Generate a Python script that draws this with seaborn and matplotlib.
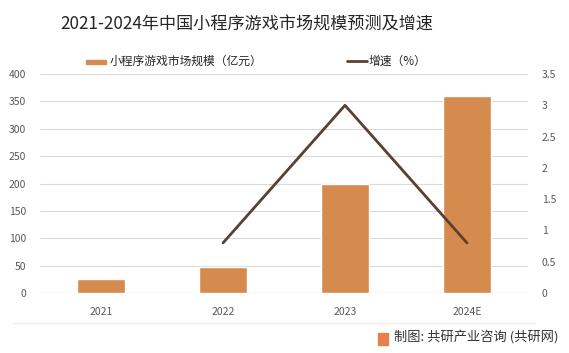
import matplotlib
matplotlib.use("Agg")
import matplotlib.pyplot as plt
import matplotlib.patches as mpatches
from matplotlib.lines import Line2D
import seaborn as sns
import numpy as np
import pandas as pd

years = ["2021", "2022", "2023", "2024E"]
market_size = [25, 48, 200, 360]
growth = [np.nan, 0.8, 3.0, 0.8]
left_ticks = [0, 50, 100, 150, 200, 250, 300, 350, 400]
right_ticks = [0, 0.5, 1, 1.5, 2, 2.5, 3, 3.5]
right_tick_labels = ["0", "0.5", "1", "1.5", "2", "2.5", "3", "3.5"]

title = "2021-2024年中国小程序游戏市场规模预测及增速"
bar_label = "小程序游戏市场规模（亿元）"
line_label = "增速（%）"
source = "制图: 共研产业咨询 (共研网)"

sns.set_theme(style="white")
plt.rcParams['font.family'] = ['Noto Sans CJK SC', 'DejaVu Sans']

bar_color = "#D58B4E"
line_color = "#5A4032"
tick_color = "#595959"

W, H = 569, 353
fig = plt.figure(figsize=(W / 100, H / 100), dpi=100)
ax = fig.add_axes([40 / W, 1 - 293 / H, 488 / W, 219 / H])

def fx(px):
    return px / W

def fy(py):
    return 1 - py / H

df = pd.DataFrame({"year": years, "size": market_size, "growth": growth})
sns.barplot(data=df, x="year", y="size", color=bar_color, width=0.39,
            saturation=1, ax=ax)
ax.set_xlim(-0.5, len(years) - 0.5)
ax.set_ylim(0, 400)
ax.set_yticks(left_ticks)
ax.yaxis.grid(True, color="#D9D9D9", linewidth=0.8)
ax.set_axisbelow(True)
for s in ax.spines.values():
    s.set_visible(False)
ax.set_xlabel("")
ax.set_ylabel("")
ax.tick_params(axis="both", length=0, labelsize=7.5, colors=tick_color)
ax.tick_params(axis="x", pad=10)
ax.tick_params(axis="y", pad=10)
ax.axhline(0, color="#D9D9D9", linewidth=0.8, zorder=0)

ax2 = ax.twinx()
sns.lineplot(x=np.arange(len(years)), y=growth, color=line_color,
             linewidth=2, ax=ax2)
ax2.set_ylim(0, 3.5)
ax2.set_yticks(right_ticks)
ax2.set_yticklabels(right_tick_labels)
ax2.tick_params(axis="y", length=0, labelsize=7.5, colors=tick_color, pad=10)
for s in ax2.spines.values():
    s.set_visible(False)
ax2.grid(False)

fig.text(fx(247), fy(25), title, ha="center", va="center", fontsize=12.3,
         color="#262626")

# legend drawn manually
ly = 61
fig.add_artist(mpatches.Rectangle((fx(86), fy(ly + 3)), fx(106) - fx(86),
                                  4 / H, color=bar_color,
                                  transform=fig.transFigure))
fig.text(fx(110), fy(ly), bar_label, ha="left", va="center", fontsize=8.5,
         color="#262626")
fig.add_artist(Line2D([fx(347), fx(367)], [fy(ly), fy(ly)], color=line_color,
                      linewidth=2, transform=fig.transFigure))
fig.text(fx(369), fy(ly), line_label, ha="left", va="center", fontsize=8.5,
         color="#262626")

fig.add_artist(Line2D([fx(13), fx(535)], [fy(323), fy(323)], color="#EEEEEE",
                      linewidth=1, transform=fig.transFigure))
fig.add_artist(mpatches.Rectangle((fx(378), fy(345)), 10 / W, 12 / H,
                                  color="#E8804A", transform=fig.transFigure))
fig.text(fx(394), fy(338), source, ha="left", va="center", fontsize=9.5,
         color="#333333")

fig.savefig("out.png", dpi=100)
